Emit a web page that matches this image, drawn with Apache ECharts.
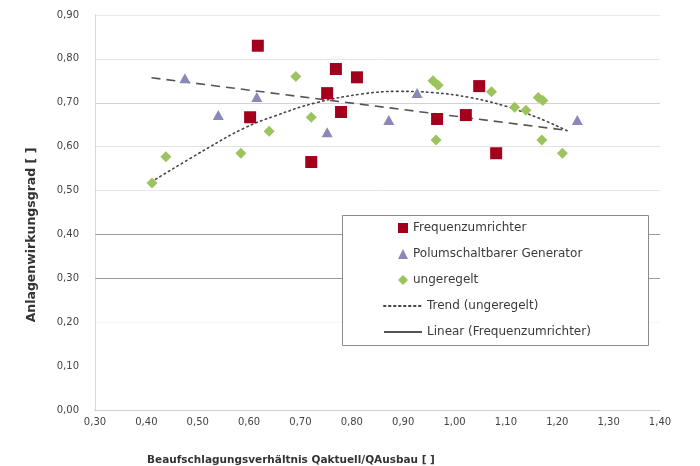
<!DOCTYPE html>
<html>
<head>
<meta charset="utf-8">
<script src="https://cdn.jsdelivr.net/npm/echarts@6/dist/echarts.min.js"></script>
<style>html,body{margin:0;padding:0;background:#fff}#c{width:700px;height:466px}</style>
</head>
<body>
<div id="c"></div>
<script>
// ---- data ----
const seriesNames = ['Frequenzumrichter', 'Polumschaltbarer Generator', 'ungeregelt', 'Trend (ungeregelt)', 'Linear (Frequenzumrichter)'];
const frequenzumrichter = [[0.617,0.83],[0.602,0.667],[0.721,0.565],[0.752,0.722],[0.769,0.777],[0.779,0.679],[0.81,0.758],[0.966,0.663],[1.022,0.672],[1.048,0.738],[1.081,0.585]];
const polumschaltbar = [[0.475,0.756],[0.54,0.672],[0.615,0.713],[0.752,0.633],[0.872,0.661],[0.927,0.722],[1.239,0.661]];
const ungeregelt = [[0.411,0.517],[0.438,0.577],[0.584,0.585],[0.639,0.635],[0.691,0.76],[0.721,0.667],[0.958,0.75],[0.968,0.74],[0.964,0.615],[1.072,0.725],[1.117,0.69],[1.139,0.683],[1.163,0.712],[1.172,0.705],[1.17,0.615],[1.21,0.585]];
const trendUngeregelt = [[0.41,0.52],[0.52,0.597],[0.59,0.642],[0.65,0.67],[0.73,0.70],[0.82,0.72],[0.89,0.726],[0.96,0.723],[1.03,0.712],[1.10,0.692],[1.16,0.667],[1.22,0.636]];
const linearFrequenz = [[0.41,0.757],[1.22,0.637]];
const xAxisTitle = 'Beaufschlagungsverhältnis Qaktuell/QAusbau [ ]';
const yAxisTitle = 'Anlagenwirkungsgrad [ ]';

const fmt = v => v.toFixed(2).replace('.', ',');
const FONT = 'DejaVu Sans';
const legendText = {fontSize: 12, color: '#3a3a3a', fontFamily: FONT, lineHeight: 14};
const chart = echarts.init(document.getElementById('c'), null, {renderer: 'canvas'});
chart.setOption({
  animation: false,
  backgroundColor: '#fff',
  textStyle: {fontFamily: FONT},
  grid: {left: 95, right: 40, top: 15, bottom: 56, containLabel: false},
  xAxis: {
    type: 'value', min: 0.3, max: 1.4, interval: 0.1,
    axisLine: {show: true, lineStyle: {color: '#c4c4c4', type: 'dotted', width: 1}},
    axisTick: {show: false},
    splitLine: {show: false},
    axisLabel: {formatter: fmt, color: '#444', fontSize: 10, fontFamily: FONT, margin: 7,
      showMinLabel: true, showMaxLabel: true}
  },
  yAxis: {
    type: 'value', min: 0, max: 0.9, interval: 0.1,
    axisLine: {show: true, lineStyle: {color: '#d0d0d0', type: 'dotted', width: 1}},
    axisTick: {show: false},
    splitLine: {show: true, showMinLine: false, lineStyle: {width: 1,
      color: ['rgba(0,0,0,0)', '#f6f6f6', '#9a9a9a', '#9a9a9a', '#e6e6e6', '#e2e2e2', '#d2d2d2', '#e6e6e6', '#e8e8e8', '#efefef']}},
    axisLabel: {formatter: fmt, color: '#444', fontSize: 10, fontFamily: FONT, margin: 16}
  },
  legend: [
    {
      orient: 'vertical', left: 398, top: 221, padding: 0,
      itemWidth: 10, itemHeight: 10, itemGap: 12, itemTextGap: 17,
      textStyle: legendText,
      data: [seriesNames[0], seriesNames[1], seriesNames[2]]
    },
    {
      orient: 'vertical', left: 383, top: 299, padding: 0,
      itemWidth: 38, itemHeight: 10, itemGap: 12, itemTextGap: 5,
      textStyle: legendText,
      data: [
        {name: seriesNames[3], itemStyle: {opacity: 0}},
        {name: seriesNames[4], itemStyle: {opacity: 0}, lineStyle: {type: 'solid'}}
      ]
    }
  ],
  graphic: [
    {type: 'rect', z: 3, shape: {x: 342.5, y: 215.5, width: 306, height: 130},
      style: {fill: '#fff', stroke: '#8a8a8a', lineWidth: 1}},
    {type: 'text', z: 3, style: {text: xAxisTitle, x: 291, y: 460, align: 'center', verticalAlign: 'middle',
      fill: '#333', font: 'bold 10.5px "DejaVu Sans"'}},
    {type: 'text', z: 3, rotation: Math.PI / 2, x: 32, y: 235, style: {text: yAxisTitle, x: 0, y: 0, align: 'center', verticalAlign: 'middle',
      fill: '#333', font: 'bold 12.5px "DejaVu Sans"'}}
  ],
  series: [
    {name: seriesNames[3], type: 'line', data: trendUngeregelt, smooth: 0.4, symbol: 'none', z: 2,
      lineStyle: {color: '#444', width: 1.6, type: [1.5, 3.5], cap: 'round'}, itemStyle: {color: '#444'}},
    {name: seriesNames[4], type: 'line', data: linearFrequenz, symbol: 'none', z: 2,
      lineStyle: {color: '#555', width: 1.6, type: [9, 6]}, itemStyle: {color: '#555'}},
    {name: seriesNames[0], type: 'scatter', data: frequenzumrichter, symbol: 'rect', symbolSize: 12, z: 3,
      itemStyle: {color: '#a3001d', opacity: 1}},
    {name: seriesNames[1], type: 'scatter', data: polumschaltbar, symbol: 'triangle', symbolSize: [11, 10], z: 3,
      itemStyle: {color: '#8a87b9', opacity: 1}},
    {name: seriesNames[2], type: 'scatter', data: ungeregelt, symbol: 'diamond', symbolSize: 11, z: 3,
      itemStyle: {color: '#9cc45e', opacity: 1}}
  ]
});
</script>
</body>
</html>
